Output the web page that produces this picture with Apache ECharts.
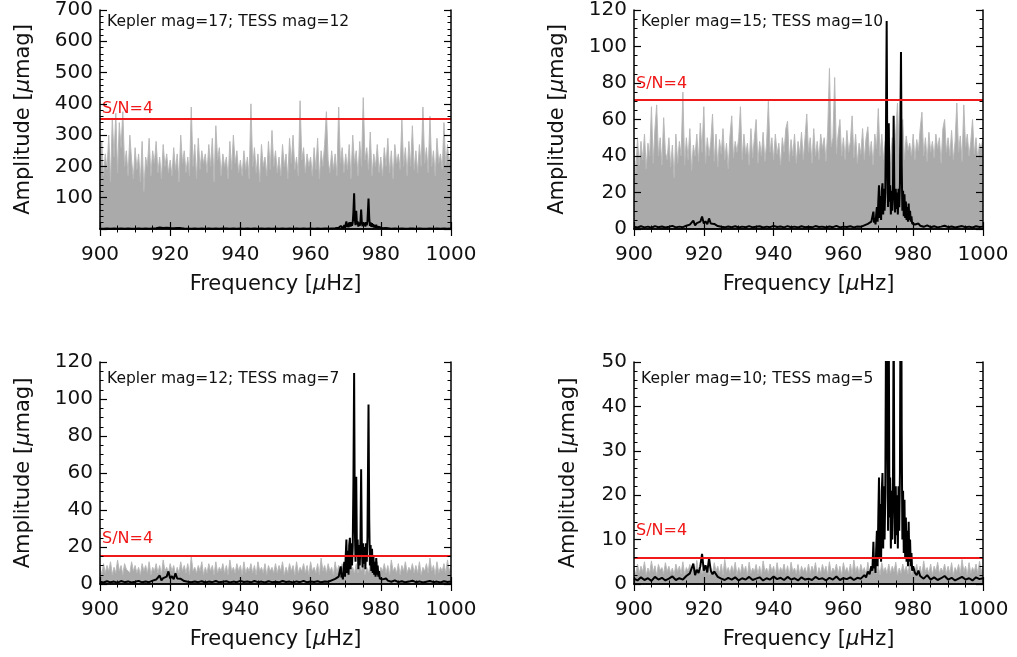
<!DOCTYPE html>
<html><head><meta charset="utf-8">
<script src="https://cdn.jsdelivr.net/npm/echarts@6/dist/echarts.min.js"></script>
<style>html,body{margin:0;padding:0;background:#fff}#c{width:1017px;height:657px}</style>
</head><body><div id="c"></div>
<script>
// ---------- data ----------
const panelLabels = ['Kepler mag=17; TESS mag=12', 'Kepler mag=15; TESS mag=10', 'Kepler mag=12; TESS mag=7', 'Kepler mag=10; TESS mag=5'];
const snLabel = 'S/N=4';
const snLevels = [353, 70.8, 15.1, 5.9];
const yMax = [700, 120, 120, 50];
const yInterval = [100, 20, 20, 10];
const yMinorSplit = [5, 4, 4, 5];
const xMin = 900, xMax = 1000, xInterval = 20;
const grayStart = 900, grayStep = 0.5;

// TESS simulated spectra (grey), 900..1000 uHz every 0.5 uHz
const grayP1 = [
210,280,170,240,190,300,150,355,230,370,180,340,260,375,200,250,170,300,220,160,
260,190,240,150,280,120,230,200,290,170,250,210,280,180,230,160,270,200,240,180,
220,170,260,190,240,150,300,210,250,180,230,170,390,200,270,160,290,190,250,210,
240,180,270,200,290,150,330,220,260,170,240,200,230,160,280,190,300,210,250,180,
220,170,250,190,230,160,400,200,260,180,240,150,270,200,230,170,280,190,315,200,
250,180,230,170,270,200,240,160,290,210,300,190,230,170,410,220,260,180,240,200,
230,170,260,190,290,160,250,200,270,375,220,180,250,190,240,170,390,210,260,180,
240,190,270,160,300,210,250,170,280,200,420,220,260,190,310,170,240,200,270,180,
230,170,260,200,290,180,250,160,270,210,240,190,350,200,260,170,280,200,330,190,
250,180,270,200,390,210,260,180,360,200,250,170,290,210,240,190,340,200,270,210,
250];
const grayP2 = [
45,30,50,35,48,38,52,33,47,40,67,36,55,68,40,50,35,61,42,38,
50,34,46,28,52,36,48,40,75,35,50,38,55,32,46,40,52,37,58,42,
67,36,50,40,48,63,37,52,34,49,41,55,38,47,33,51,62,39,48,42,
50,67,38,52,41,47,35,55,39,50,60,36,48,40,53,37,47,70,42,50,
38,52,41,47,35,50,42,55,59,37,49,40,52,36,48,41,53,38,50,63,
42,50,36,55,40,48,38,52,44,50,37,54,88,45,50,83,41,52,60,40,
50,38,54,42,48,62,39,52,36,47,41,55,38,50,56,40,48,35,52,44,
66,40,52,38,48,43,55,37,50,42,53,69,41,48,60,38,51,43,47,40,
52,38,49,43,55,64,40,50,37,53,42,48,39,52,44,50,36,55,60,42,
50,40,54,38,48,69,42,51,37,68,45,52,40,48,60,41,50,38,47,44,
50];
const grayP3 = [
9,5,11,6,10,7,12,5,9,6,13,7,10,5,11,8,9,6,12,7,
10,6,9,5,11,7,10,6,12,5,9,7,11,6,10,5,13,7,9,6,
11,7,10,5,9,6,12,7,10,6,11,5,15,7,9,6,10,7,12,5,
9,6,11,7,10,5,12,6,9,7,11,6,10,5,13,7,9,6,11,7,
10,5,12,6,9,7,11,6,10,5,12,7,9,6,11,5,10,7,9,6,
11,6,10,7,12,5,9,6,11,7,10,5,12,6,9,7,11,6,10,5,
12,7,9,6,11,5,14,7,10,6,11,7,9,5,12,6,10,7,11,6,
10,5,12,7,9,6,11,6,10,7,12,5,9,6,11,7,10,6,12,5,
9,7,11,6,10,5,13,7,9,6,11,5,10,7,12,6,9,7,11,6,
10,6,12,5,9,7,11,6,14,7,10,5,12,6,9,7,11,6,13,7,
10];
const grayP4 = [
3.8,2.0,4.5,2.4,4.0,2.8,5.0,2.1,3.6,2.5,5.2,2.7,4.1,2.0,4.4,3.1,3.7,2.3,4.8,2.8,
4.0,2.4,3.6,2.0,4.5,2.8,4.0,2.3,5.0,2.1,3.7,2.9,4.4,2.4,4.0,2.0,5.3,2.8,3.6,2.4,
4.4,2.7,4.0,2.1,3.6,2.4,4.8,2.9,4.0,2.3,4.5,2.0,5.5,2.8,3.7,2.4,4.1,2.7,4.9,2.1,
3.7,2.4,4.5,2.8,4.0,2.0,4.9,2.4,3.6,2.8,4.4,2.3,4.0,2.0,5.2,2.8,3.6,2.4,4.5,2.8,
4.0,2.1,4.8,2.4,3.7,2.8,4.5,2.4,4.1,2.0,4.9,2.8,3.6,2.3,4.4,2.1,4.0,2.8,3.7,2.4,
4.5,2.4,4.0,2.8,4.8,2.0,3.7,2.4,4.4,2.8,4.0,2.1,5.0,2.4,3.6,2.8,4.5,2.3,4.0,2.0,
4.8,2.8,3.7,2.4,4.5,2.1,5.4,2.8,4.0,2.4,4.4,2.8,3.7,2.1,4.9,2.4,4.0,2.8,4.5,2.3,
4.0,2.1,4.8,2.8,3.7,2.4,4.5,2.4,4.0,2.8,4.9,2.0,3.6,2.4,4.5,2.8,4.0,2.3,4.8,2.1,
3.7,2.8,4.4,2.4,4.0,2.0,5.2,2.8,3.7,2.4,4.5,2.1,4.0,2.8,4.9,2.4,3.6,2.8,4.5,2.4,
4.0,2.4,4.8,2.0,3.7,2.8,4.4,2.4,5.5,2.8,4.0,2.1,4.8,2.4,3.7,2.8,4.5,2.4,5.1,2.8,
4.0];

// Kepler spectrum (black): [frequency uHz, amplitude umag]
const keplerSpec = [
[900,1.2],[901,0.8],[902,1.5],[903,0.9],[904,1.3],[905,0.7],[906,1.6],[907,1.0],[908,1.4],[909,0.8],
[910,1.2],[911,1.7],[912,0.9],[913,1.3],[914,1.0],[915,1.8],[916,2.4],[917,4.6],[917.5,2.0],[918,3.2],
[918.5,2.5],[919,4.0],[919.5,6.8],[920,3.0],[920.5,4.2],[921,2.6],[921.5,5.8],[922,3.0],[922.5,2.2],[923,2.8],
[924,1.6],[925,1.2],[926,0.9],[927,1.4],[928,1.0],[929,1.5],[930,0.8],[931,1.3],[932,1.0],[933,1.6],
[934,0.9],[935,1.2],[936,1.5],[937,0.8],[938,1.3],[939,1.0],[940,1.7],[941,1.1],[942,1.4],[943,0.9],
[944,1.6],[945,1.0],[946,1.3],[947,0.8],[948,1.5],[949,1.0],[950,1.2],[951,0.9],[952,1.6],[953,1.1],
[954,1.3],[955,0.8],[956,1.4],[957,1.0],[958,1.7],[959,0.9],[960,1.3],[961,1.1],[962,1.5],[963,0.9],
[964,1.4],[965,1.2],[966,2.0],[966.5,1.5],[967,2.8],[967.5,2.2],[968,4.0],[968.3,3.0],[968.6,9.5],[968.8,3.5],
[969,6],[969.2,2.5],[969.4,8],[969.6,12],[969.8,4],[970,15],[970.2,24],[970.4,6],[970.6,18],[970.8,5],
[971,21],[971.2,25],[971.4,8],[971.6,22],[971.8,10],[972,20],[972.2,55],[972.4,114],[972.6,30],[972.8,12],
[973,58],[973.2,15],[973.4,24],[973.6,8],[973.8,21],[974,10],[974.2,23],[974.4,62],[974.6,20],[974.8,9],
[975,22],[975.2,11],[975.4,20],[975.6,8],[975.8,22],[976,12],[976.2,25],[976.5,97],[976.7,35],[976.9,10],
[977.1,21],[977.3,7],[977.5,19],[977.7,6],[977.9,15],[978.1,5],[978.3,12],[978.5,4],[978.7,14],[978.9,5],
[979.1,10],[979.3,4],[979.5,7],[979.7,3],[980,4],[980.5,2.5],[981,2.0],[981.5,3.0],[982,1.8],[983,1.2],
[984,2.0],[985,1.0],[986,1.5],[987,0.9],[988,1.3],[989,1.8],[990,1.0],[991,1.4],[992,0.8],[993,1.2],
[994,1.6],[995,1.0],[996,1.3],[997,0.8],[998,1.5],[999,1.1],[1000,1.3]];

const grayPanels = [grayP1, grayP2, grayP3, grayP4];

// ---------- layout ----------
const gridPos = [
  {left: 100, top: 7, width: 351, height: 222},
  {left: 634, top: 7, width: 349, height: 222},
  {left: 100, top: 362, width: 351, height: 222},
  {left: 634, top: 362, width: 349, height: 222}
];
const yNameGap = [66, 66, 66, 55];
const snLabelLift = [0, 6, 7, 17];
const FONT = 'DejaVu Sans';

const chart = echarts.init(document.getElementById('c'), null, {renderer: 'canvas'});
const grid = [], xAxis = [], yAxis = [], series = [], title = [];
const frame = {show: true, lineStyle: {color: '#000', width: 1.5}};
const plain = (v) => String(v);

gridPos.forEach((g, i) => {
  grid.push(Object.assign({containLabel: false}, g));
  const tick = {show: true, inside: true, length: 7, lineStyle: {color: '#000', width: 1.2}};
  const mtick = (n) => ({show: true, splitNumber: n, length: 3.5, lineStyle: {color: '#000', width: 1}});
  // bottom x
  xAxis.push({type: 'value', gridIndex: i, min: xMin, max: xMax, interval: xInterval, position: 'bottom', z: 10,
    axisLine: frame, axisTick: tick, minorTick: mtick(4), splitLine: {show: false},
    axisLabel: {margin: 16, fontSize: 20, color: '#111', fontFamily: FONT, formatter: plain},
    name: 'Frequency [{mu|μ}Hz]', nameLocation: 'middle', nameGap: 45,
    nameTextStyle: {fontSize: 21, color: '#111', fontFamily: FONT, rich: {mu: {fontSize: 21, fontStyle: 'italic', color: '#111', fontFamily: FONT}}}
  });
  // top x (frame + ticks)
  xAxis.push({type: 'value', gridIndex: i, min: xMin, max: xMax, interval: xInterval, position: 'top', z: 10,
    axisLine: frame, axisTick: tick, minorTick: mtick(4), splitLine: {show: false}, axisLabel: {show: false}});
  // left y
  yAxis.push({type: 'value', gridIndex: i, min: 0, max: yMax[i], interval: yInterval[i], position: 'left', z: 10,
    axisLine: frame, axisTick: tick, minorTick: mtick(yMinorSplit[i]), splitLine: {show: false},
    axisLabel: {margin: 7, fontSize: 20, color: '#111', fontFamily: FONT, showMinLabel: i !== 0, formatter: plain},
    name: 'Amplitude [{mu|μ}mag]', nameLocation: 'middle', nameGap: yNameGap[i], nameRotate: 90,
    nameTextStyle: {fontSize: 21, color: '#111', fontFamily: FONT, rich: {mu: {fontSize: 21, fontStyle: 'italic', color: '#111', fontFamily: FONT}}}
  });
  // right y (frame + ticks)
  yAxis.push({type: 'value', gridIndex: i, min: 0, max: yMax[i], interval: yInterval[i], position: 'right', z: 10,
    axisLine: frame, axisTick: tick, minorTick: mtick(yMinorSplit[i]), splitLine: {show: false}, axisLabel: {show: false}});

  const grayData = grayPanels[i].map((v, k) => [grayStart + k * grayStep, v]);
  series.push({type: 'line', xAxisIndex: 2 * i, yAxisIndex: 2 * i, data: grayData, showSymbol: false,
    lineStyle: {color: '#b9b9b9', width: 1}, areaStyle: {color: '#aaaaaa', opacity: 1}, silent: true, z: 2});
  series.push({type: 'line', xAxisIndex: 2 * i, yAxisIndex: 2 * i, data: keplerSpec, showSymbol: false,
    lineStyle: {color: '#000', width: 2}, silent: true, z: 3,
    markLine: {silent: true, symbol: 'none', animation: false,
      lineStyle: {color: '#f01818', width: 2, type: 'solid'},
      label: {show: true, position: 'insideStartTop', formatter: snLabel, color: '#f01818',
        fontSize: 16, fontFamily: FONT, distance: 2, padding: [0, 0, snLabelLift[i], 0]},
      data: [{yAxis: snLevels[i]}]}
  });
  title.push({text: panelLabels[i], left: g.left + 7, top: g.top + (i < 2 ? 7 : 9), padding: 0,
    textStyle: {fontSize: 15.5, fontWeight: 'normal', color: '#111', fontFamily: FONT}});
});

chart.setOption({animation: false, backgroundColor: '#fff', title, grid, xAxis, yAxis, series});
</script></body></html>
